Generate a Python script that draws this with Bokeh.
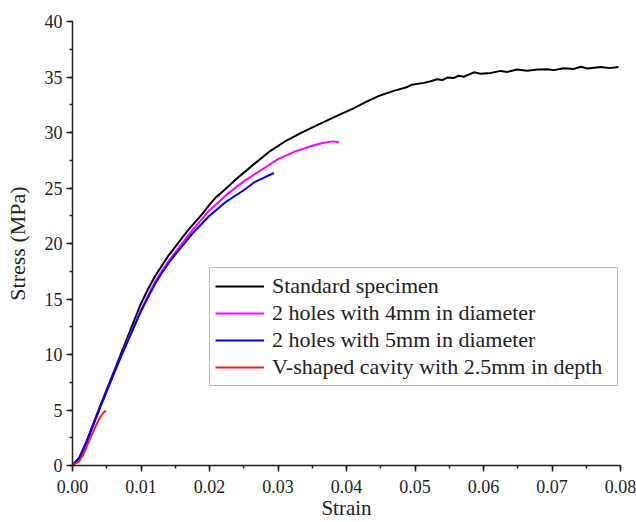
from bokeh.plotting import figure
from bokeh.models import (Range1d, SingleIntervalTicker, NumeralTickFormatter,
                          Legend, LegendItem)
from bokeh.embed import file_html
from bokeh.resources import INLINE

# ---- data ----
std_strain = [0, 0.001, 0.002, 0.003, 0.004, 0.005, 0.006, 0.007, 0.008, 0.009,
              0.010, 0.011, 0.012, 0.013, 0.014, 0.015, 0.016, 0.017, 0.018, 0.019,
              0.020, 0.021, 0.0216, 0.024, 0.0265, 0.0289, 0.0313, 0.0338, 0.0362,
              0.0386, 0.0411, 0.043, 0.045, 0.0469, 0.0489, 0.0495, 0.0513, 0.0523,
              0.0532, 0.054, 0.0547, 0.0557, 0.0564, 0.0571, 0.0586, 0.0596, 0.0611,
              0.0625, 0.0635, 0.0649, 0.0664, 0.0679, 0.0693, 0.0703, 0.0717, 0.0732,
              0.0742, 0.0752, 0.0771, 0.0785, 0.0797]
std_stress = [0, 0.7, 2.1, 3.7, 5.3, 6.85, 8.4, 9.95, 11.5, 13.05,
              14.6, 15.85, 17.0, 17.95, 18.9, 19.7, 20.5, 21.3, 22.0, 22.7,
              23.5, 24.2, 24.5, 25.85, 27.15, 28.35, 29.3, 30.1, 30.8,
              31.5, 32.2, 32.8, 33.36, 33.75, 34.1, 34.3, 34.47, 34.62,
              34.8, 34.72, 34.95, 34.92, 35.12, 35.02, 35.42, 35.3, 35.37,
              35.55, 35.46, 35.68, 35.56, 35.67, 35.7, 35.62, 35.78, 35.73,
              35.92, 35.76, 35.9, 35.8, 35.9]

h4_strain = [0, 0.001, 0.002, 0.003, 0.004, 0.005, 0.006, 0.007, 0.008, 0.009,
             0.010, 0.011, 0.012, 0.013, 0.014, 0.015, 0.0175, 0.020, 0.0225,
             0.025, 0.0275, 0.030, 0.0325, 0.035, 0.0365, 0.0381, 0.0389]
h4_stress = [0, 0.7, 2.0, 3.6, 5.2, 6.7, 8.2, 9.7, 11.2, 12.6,
             14.0, 15.3, 16.5, 17.5, 18.4, 19.2, 21.2, 23.0, 24.4,
             25.6, 26.6, 27.6, 28.3, 28.8, 29.05, 29.2, 29.1]

h5_strain = [0, 0.001, 0.002, 0.003, 0.004, 0.005, 0.006, 0.007, 0.008, 0.009,
             0.010, 0.011, 0.012, 0.013, 0.014, 0.015, 0.0175, 0.020, 0.0225,
             0.025, 0.0265, 0.0275, 0.0294]
h5_stress = [0, 0.7, 2.0, 3.6, 5.2, 6.7, 8.2, 9.7, 11.1, 12.5,
             13.9, 15.1, 16.3, 17.3, 18.2, 19.0, 20.9, 22.5, 23.8,
             24.8, 25.5, 25.8, 26.35]

v_strain = [0, 0.0005, 0.001, 0.0015, 0.002, 0.0025, 0.003, 0.0035, 0.004,
            0.0045, 0.0049]
v_stress = [0, 0.2, 0.4, 0.9, 1.6, 2.3, 3.0, 3.7, 4.3, 4.75, 4.95]

series_names = ["Standard specimen",
                "2 holes with 4mm in diameter",
                "2 holes with 5mm in diameter",
                "V-shaped cavity with 2.5mm in depth"]
series_colors = ["#000000", "#ff00ff", "#0000ee", "#ff1a1a"]

x_title = "Strain"
y_title = "Stress (MPa)"

FONT = "'Liberation Serif', 'Times New Roman', 'DejaVu Serif', serif"
TXT = "#222222"

p = figure(width=636, height=522, output_backend="svg", toolbar_location=None,
           x_range=Range1d(0, 0.08), y_range=Range1d(0, 40),
           min_border_left=72, min_border_right=16, min_border_top=21,
           min_border_bottom=56)
p.outline_line_color = None
p.xgrid.visible = False
p.ygrid.visible = False

series = [(std_strain, std_stress), (h4_strain, h4_stress),
          (h5_strain, h5_stress), (v_strain, v_stress)]
items = []
for (xs, ys), name, col in zip(series, series_names, series_colors):
    r = p.line(xs, ys, line_color=col, line_width=2)
    items.append(LegendItem(label=name, renderers=[r]))

p.xaxis.ticker = SingleIntervalTicker(interval=0.01, num_minor_ticks=2)
p.yaxis.ticker = SingleIntervalTicker(interval=5, num_minor_ticks=2)
p.xaxis.formatter = NumeralTickFormatter(format="0.00")
p.yaxis.formatter = NumeralTickFormatter(format="0")
p.xaxis.axis_label = x_title
p.yaxis.axis_label = y_title

for ax in (p.xaxis, p.yaxis):
    ax.axis_line_color = TXT
    ax.axis_line_width = 1.5
    ax.major_tick_line_color = TXT
    ax.major_tick_line_width = 1.5
    ax.minor_tick_line_color = TXT
    ax.minor_tick_line_width = 1.5
    ax.major_tick_out = 6
    ax.major_tick_in = 0
    ax.minor_tick_out = 3
    ax.minor_tick_in = 0
    ax.major_label_text_font = FONT
    ax.major_label_text_font_size = "18px"
    ax.major_label_text_color = TXT
    ax.axis_label_text_font = FONT
    ax.axis_label_text_font_style = "normal"
    ax.axis_label_text_color = TXT

p.xaxis.major_label_standoff = 8
p.yaxis.major_label_standoff = 4
p.xaxis.axis_label_text_font_size = "21px"
p.yaxis.axis_label_text_font_size = "22px"
p.xaxis.axis_label_standoff = 0
p.yaxis.axis_label_standoff = 12

legend = Legend(items=items, location=(137, 79), margin=0, padding=5, spacing=1,
                glyph_width=49, glyph_height=20, label_standoff=8,
                label_width=340,
                label_text_font=FONT, label_text_font_size="22px",
                label_text_color=TXT, border_line_color="#777777",
                border_line_width=1, background_fill_color="white",
                background_fill_alpha=1.0)
p.add_layout(legend)

open("out.html", "w").write(file_html(p, INLINE))
